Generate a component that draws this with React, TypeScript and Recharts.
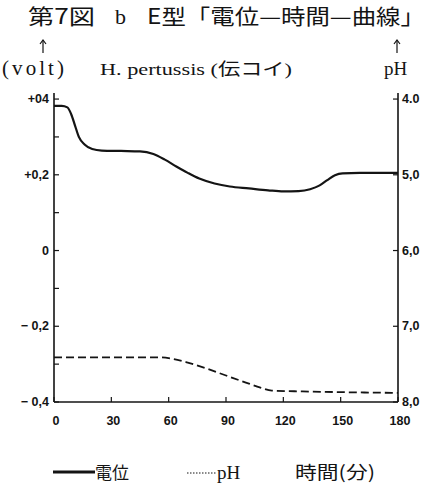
import React from 'react';
import { LineChart, Line, XAxis, YAxis } from 'recharts';

// 電位 (volt) over time (min)
const potentialTimes = [0, 4, 7, 9, 11, 13, 16, 20, 25, 35, 45, 52, 58, 64, 70, 76, 84, 92, 102, 112, 120, 128, 134, 139, 143, 147, 151, 160, 170, 180];
const potentialValues = [0.382, 0.382, 0.378, 0.36, 0.33, 0.3, 0.28, 0.268, 0.264, 0.263, 0.262, 0.255, 0.24, 0.222, 0.205, 0.19, 0.177, 0.169, 0.164, 0.159, 0.156, 0.157, 0.162, 0.172, 0.186, 0.199, 0.204, 0.205, 0.205, 0.205];

// pH over time (min)
const phTimes = [0, 30, 55, 62, 70, 80, 90, 100, 108, 114, 130, 150, 180];
const phValues = [7.41, 7.41, 7.41, 7.43, 7.48, 7.56, 7.65, 7.74, 7.81, 7.85, 7.86, 7.87, 7.88];

const timeTicks = [0, 30, 60, 90, 120, 150, 180];
const voltTicks = [-0.4, -0.3, -0.2, -0.1, 0, 0.1, 0.2, 0.3, 0.4];
const voltLabels: Record<string, string> = { '0.4': '+04', '0.2': '+0,2', '0': '0', '-0.2': '− 0,2', '-0.4': '− 0,4' };
const phTicks = [4, 5, 6, 7, 8];
const phLabels = ['4.0', '5,0', '6,0', '7,0', '8,0'];

const data = [
  ...potentialTimes.map((t, i) => ({ t, volt: potentialValues[i] })),
  ...phTimes.map((t, i) => ({ t, ph: phValues[i] })),
].sort((a, b) => a.t - b.t);

const INK = '#141414';
const tickFont = { fontFamily: '"Liberation Sans", Arial, sans-serif', fontSize: 12.5, fontWeight: 700, fill: INK };
const serif = '"Liberation Serif", "Noto Sans CJK JP", serif';
const cjk = '"Noto Sans CJK JP", sans-serif';

const LeftTick = (props: any) => {
  const { x, y, payload } = props;
  const label = voltLabels[String(Math.round(payload.value * 10) / 10)];
  return (
    <g>
      <line x1={x} x2={x + 5} y1={y} y2={y} stroke={INK} strokeWidth={1.2} />
      {label && (
        <text x={x - 5} y={y} textAnchor="end" dominantBaseline="central" style={tickFont}>
          {label}
        </text>
      )}
    </g>
  );
};

const RightTick = (props: any) => {
  const { x, y, payload } = props;
  const idx = phTicks.indexOf(payload.value);
  return (
    <g>
      <line x1={x - 5} x2={x} y1={y} y2={y} stroke={INK} strokeWidth={1.2} />
      <text x={x + 4} y={y} textAnchor="start" dominantBaseline="central" style={tickFont}>
        {phLabels[idx]}
      </text>
    </g>
  );
};

const BottomTick = (props: any) => {
  const { x, y, payload } = props;
  return (
    <g>
      <line x1={x} x2={x} y1={y - 5} y2={y} stroke={INK} strokeWidth={1.2} />
      <text x={x + 2} y={y + 19} textAnchor="middle" dominantBaseline="central" style={tickFont}>
        {payload.value}
      </text>
    </g>
  );
};

const Arrow = ({ x, y1, y2 }: { x: number; y1: number; y2: number }) => (
  <g stroke={INK} strokeWidth={1.2} fill="none">
    <line x1={x} x2={x} y1={y1} y2={y2} />
    <path d={`M${x - 3},${y1 + 4} L${x},${y1} L${x + 3},${y1 + 4}`} />
  </g>
);

export default function App() {
  return (
    <div style={{ position: 'absolute', left: 0, top: 0, width: 429, height: 484, background: '#fff' }}>
      <LineChart
        width={429}
        height={484}
        data={data}
        margin={{ top: 93, right: 0, bottom: 52, left: 0 }}
      >
        <XAxis
          dataKey="t"
          type="number"
          domain={[0, 180]}
          ticks={timeTicks}
          height={30}
          tickSize={0}
          tickMargin={0}
          tickLine={false}
          axisLine={{ stroke: INK, strokeWidth: 1.6 }}
          tick={<BottomTick />}
        />
        <YAxis
          yAxisId="volt"
          type="number"
          domain={[-0.4, 0.416]}
          ticks={voltTicks}
          width={54}
          tickSize={0}
          tickMargin={0}
          tickLine={false}
          allowDataOverflow
          axisLine={{ stroke: INK, strokeWidth: 1.6 }}
          tick={<LeftTick />}
        />
        <YAxis
          yAxisId="ph"
          orientation="right"
          type="number"
          domain={[3.92, 8]}
          reversed
          ticks={phTicks}
          width={31}
          tickSize={0}
          tickMargin={0}
          tickLine={false}
          allowDataOverflow
          axisLine={{ stroke: INK, strokeWidth: 1.6 }}
          tick={<RightTick />}
        />
        <Line
          yAxisId="volt"
          dataKey="volt"
          type="monotone"
          stroke={INK}
          strokeWidth={2.2}
          dot={false}
          connectNulls
          isAnimationActive={false}
        />
        <Line
          yAxisId="ph"
          dataKey="ph"
          type="monotone"
          stroke={INK}
          strokeWidth={1.8}
          strokeDasharray="8 4"
          dot={false}
          connectNulls
          isAnimationActive={false}
        />
      </LineChart>
      <svg width={429} height={484} style={{ position: 'absolute', left: 0, top: 0, pointerEvents: 'none' }}>
        <g fill={INK}>
          <text x={28} y={24} fontFamily={cjk} fontSize={21} textLength={67} lengthAdjust="spacingAndGlyphs">第7図</text>
          <text x={115} y={24} fontFamily={serif} fontSize={22}>b</text>
          <text x={147} y={24} fontFamily={cjk} fontSize={21} textLength={278} lengthAdjust="spacingAndGlyphs">E型「電位—時間—曲線」</text>
          <text x={2} y={75} fontFamily={serif} fontSize={21} textLength={62} lengthAdjust="spacing">(volt)</text>
          <text x={100} y={75} fontFamily={serif} fontSize={17} textLength={192} lengthAdjust="spacingAndGlyphs">H. pertussis (伝コイ)</text>
          <text x={384} y={75} fontFamily={serif} fontSize={19}>pH</text>
          <text x={95} y={479} fontFamily={cjk} fontSize={17}>電位</text>
          <text x={217} y={479} fontFamily={serif} fontSize={19}>pH</text>
          <text x={295} y={479} fontFamily={cjk} fontSize={18} textLength={80} lengthAdjust="spacingAndGlyphs">時間(分)</text>
        </g>
        <Arrow x={43} y1={40} y2={53} />
        <Arrow x={397} y1={40} y2={53} />
        <line x1={53} x2={95} y1={472} y2={472} stroke={INK} strokeWidth={3} />
        <line x1={187} x2={216} y1={473} y2={473} stroke={INK} strokeWidth={1} strokeDasharray="1.5 1.5" />
      </svg>
    </div>
  );
}
